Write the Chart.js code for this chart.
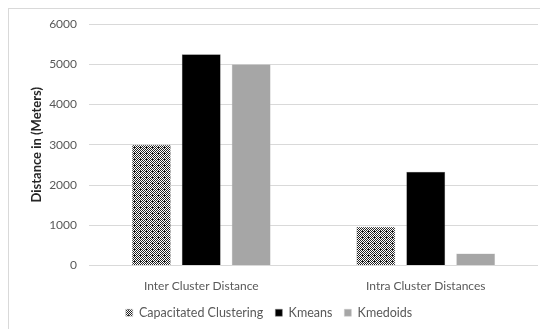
<!DOCTYPE html>
<html><head><meta charset="utf-8">
<script src="https://cdn.jsdelivr.net/npm/chart.js@4.4.1/dist/chart.umd.min.js"></script>
<style>
html,body{margin:0;padding:0;background:#fff;}
#wrap{position:relative;width:540px;height:329px;}
#frame{position:absolute;left:8px;top:8px;width:600px;height:400px;border-left:1px solid #d9d9d9;border-top:1px solid #d9d9d9;}
canvas{position:absolute;left:0;top:0;}
</style></head>
<body><div id="wrap"><div id="frame"></div><canvas id="c" width="540" height="329"></canvas></div>
<script>
const categories = ["Inter Cluster Distance", "Intra Cluster Distances"];
const seriesNames = ["Capacitated Clustering", "Kmeans", "Kmedoids"];
const capacitated = [3000, 960];
const kmeans = [5250, 2330];
const kmedoids = [5000, 300];
const yTicks = [0, 1000, 2000, 3000, 4000, 5000, 6000];

function makePattern(){
  const p = document.createElement('canvas');
  p.width = 6; p.height = 6;
  const g = p.getContext('2d');
  g.fillStyle = '#fff'; g.fillRect(0,0,6,6);
  g.fillStyle = '#222';
  const cells = [[0,0],[2,0],[4,0],[1,1],[3,1],[5,1],[0,2],[4,2],[1,3],[2,3],[3,3],[5,3],[0,4],[2,4],[4,4],[1,5],[3,5],[5,5],[2,2]];
  cells.forEach(([x,y])=>g.fillRect(x,y,1,1));
  return g.createPattern(p,'repeat');
}
const pat = makePattern();

const chart = new Chart(document.getElementById('c'), {
  type: 'bar',
  data: {
    labels: categories,
    datasets: [
      {label: seriesNames[0], data: capacitated, backgroundColor: pat, borderColor: '#bbbbbb', borderWidth: 0.5},
      {label: seriesNames[1], data: kmeans, backgroundColor: '#000000', borderColor: '#7f7f7f', borderWidth: 0.5},
      {label: seriesNames[2], data: kmedoids, backgroundColor: '#a6a6a6', borderColor: '#c8c8c8', borderWidth: 0.5}
    ]
  },
  options: {
    responsive: false,
    animation: false,
    devicePixelRatio: 1,
    layout: {padding: {top: 24, right: 2, left: 0, bottom: 0}},
    datasets: {bar: {categoryPercentage: 0.667, barPercentage: 0.78}},
    plugins: {
      tooltip: {enabled: false},
      legend: {
        position: 'bottom',
        labels: {
          boxWidth: 7, boxHeight: 7, padding: 12,
          color: '#595959',
          font: {family: 'Lato', size: 12.5}
        }
      }
    },
    scales: {
      x: {
        grid: {display: false},
        border: {display: false},
        ticks: {color: '#595959', font: {family: 'Lato', size: 12}, padding: 5},
        afterFit: s => { s.height = 29; }
      },
      y: {
        min: 0, max: 6000,
        afterBuildTicks: s => { s.ticks = yTicks.map(v => ({value: v})); },
        grid: {color: '#d9d9d9', lineWidth: 1, drawTicks: false},
        border: {display: false},
        ticks: {color: '#595959', font: {family: 'Lato', size: 12}, padding: 12, callback: v => String(v)},
        title: {display: true, text: 'Distance in (Meters)', color: '#262626', padding: {top: 29, bottom: 0}, font: {family: 'Lato', size: 13, weight: 'bold'}},
        afterFit: s => { s.width = 89; }
      }
    }
  }
});
</script></body></html>
